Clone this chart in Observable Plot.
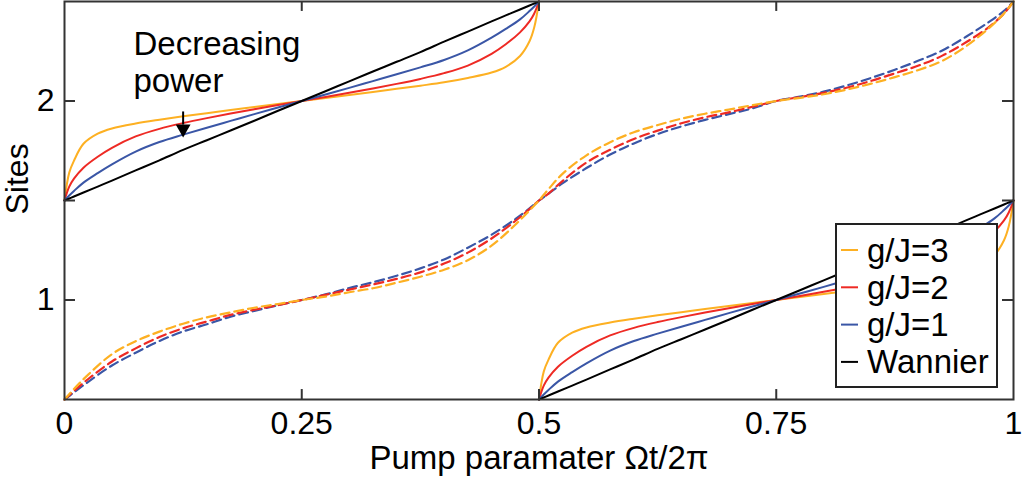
<!DOCTYPE html>
<html>
<head>
<meta charset="utf-8">
<script src="https://cdn.jsdelivr.net/npm/d3@7"></script>
<script src="https://cdn.jsdelivr.net/npm/@observablehq/plot@0.6"></script>
<style>
  html, body { margin: 0; padding: 0; background: #fff; }
  #wrap { position: relative; width: 1022px; height: 483px; font-family: "Liberation Sans", Arial, sans-serif; }
  #legend { position: absolute; left: 835px; top: 223px; }
</style>
</head>
<body>
<div id="wrap"><div id="chart"></div><div id="legend"></div></div>
<script>
// ---------- tick values & labels ----------
const xTicks = [0, 0.25, 0.5, 0.75, 1];
const xTickLabels = ["0", "0.25", "0.5", "0.75", "1"];
const yTicks = [1, 2];
const yTickLabels = ["1", "2"];
const innerXTicks = [0.25, 0.5, 0.75];
const innerYTicks = [1, 1.5, 2];

// ---------- series ----------
const seriesNames = ["g/J=3", "g/J=2", "g/J=1", "Wannier"];
const seriesColors = ["#FDB022", "#EE2A24", "#3A56A6", "#000000"];

// solid curves, first half-cycle (t 0..0.5, sites 1.5..2.5)
const solidT1 = [0, 0.005, 0.01, 0.02, 0.035, 0.05, 0.075, 0.1, 0.125, 0.15, 0.175, 0.2, 0.225, 0.25,
                 0.275, 0.3, 0.325, 0.35, 0.375, 0.4, 0.425, 0.45, 0.465, 0.48, 0.49, 0.495, 0.5];
const g3Upper = [1.5, 1.64, 1.70, 1.785, 1.836, 1.862, 1.887, 1.906, 1.923, 1.939, 1.955, 1.970, 1.985, 2.0,
                 2.015, 2.030, 2.045, 2.061, 2.077, 2.094, 2.116, 2.143, 2.172, 2.226, 2.30, 2.37, 2.5];
const g2Upper = [1.5, 1.57, 1.61, 1.665, 1.72, 1.765, 1.822, 1.860, 1.889, 1.914, 1.937, 1.959, 1.980, 2.0,
                 2.02, 2.041, 2.063, 2.086, 2.111, 2.14, 2.178, 2.237, 2.285, 2.345, 2.40, 2.44, 2.5];
const g1Upper = [1.5, 1.525, 1.548, 1.59, 1.638, 1.682, 1.746, 1.794, 1.831, 1.866, 1.900, 1.934, 1.967, 2.0,
                 2.033, 2.066, 2.1, 2.134, 2.169, 2.206, 2.254, 2.318, 2.362, 2.41, 2.452, 2.475, 2.5];
const wannierUpper = [1.5, 1.51, 1.52, 1.54, 1.57, 1.6, 1.651, 1.702, 1.754, 1.803, 1.852, 1.901, 1.951, 2.0,
                      2.049, 2.099, 2.148, 2.197, 2.246, 2.298, 2.349, 2.4, 2.43, 2.46, 2.48, 2.49, 2.5];

// solid curves, second half-cycle (t 0.5..1, sites 0.5..1.5)
const solidT2 = [0.5, 0.505, 0.51, 0.52, 0.535, 0.55, 0.575, 0.6, 0.625, 0.65, 0.675, 0.7, 0.725, 0.75,
                 0.775, 0.8, 0.825, 0.85, 0.875, 0.9, 0.925, 0.95, 0.965, 0.98, 0.99, 0.995, 1];
const g3Lower = [0.5, 0.64, 0.70, 0.785, 0.836, 0.862, 0.887, 0.906, 0.923, 0.939, 0.955, 0.970, 0.985, 1.0,
                 1.015, 1.030, 1.045, 1.061, 1.077, 1.094, 1.116, 1.143, 1.172, 1.226, 1.30, 1.37, 1.5];
const g2Lower = [0.5, 0.57, 0.61, 0.665, 0.72, 0.765, 0.822, 0.860, 0.889, 0.914, 0.937, 0.959, 0.980, 1.0,
                 1.02, 1.041, 1.063, 1.086, 1.111, 1.14, 1.178, 1.237, 1.285, 1.345, 1.40, 1.44, 1.5];
const g1Lower = [0.5, 0.525, 0.548, 0.59, 0.638, 0.682, 0.746, 0.794, 0.831, 0.866, 0.900, 0.934, 0.967, 1.0,
                 1.033, 1.066, 1.1, 1.134, 1.169, 1.206, 1.254, 1.318, 1.362, 1.41, 1.452, 1.475, 1.5];
const wannierLower = [0.5, 0.51, 0.52, 0.54, 0.57, 0.6, 0.651, 0.702, 0.754, 0.803, 0.852, 0.901, 0.951, 1.0,
                      1.049, 1.099, 1.148, 1.197, 1.246, 1.298, 1.349, 1.4, 1.43, 1.46, 1.48, 1.49, 1.5];

// dashed curves (full cycle, sites 0.5..2.5)
const dashT = [0, 0.01, 0.025, 0.05, 0.075, 0.1, 0.125, 0.15, 0.175, 0.2, 0.225, 0.25,
               0.275, 0.3, 0.325, 0.35, 0.375, 0.4, 0.425, 0.45, 0.475, 0.49, 0.5,
               0.51, 0.525, 0.55, 0.575, 0.6, 0.625, 0.65, 0.675, 0.7, 0.725, 0.75,
               0.775, 0.8, 0.825, 0.85, 0.875, 0.9, 0.925, 0.95, 0.975, 0.99, 1];
const g3Dashed = [0.5, 0.553, 0.625, 0.728, 0.793, 0.841, 0.881, 0.913, 0.938, 0.961, 0.98, 1.0,
                  1.017, 1.039, 1.059, 1.087, 1.117, 1.152, 1.2, 1.273, 1.378, 1.45, 1.5,
                  1.557, 1.635, 1.727, 1.793, 1.843, 1.879, 1.911, 1.936, 1.957, 1.979, 2.0,
                  2.016, 2.034, 2.058, 2.087, 2.12, 2.156, 2.202, 2.275, 2.37, 2.44, 2.5];
const g2Dashed = [0.5, 0.543, 0.603, 0.691, 0.757, 0.814, 0.858, 0.892, 0.925, 0.951, 0.974, 1.0,
                  1.026, 1.052, 1.078, 1.106, 1.139, 1.183, 1.238, 1.309, 1.397, 1.457, 1.5,
                  1.535, 1.599, 1.691, 1.755, 1.809, 1.851, 1.888, 1.918, 1.943, 1.971, 2.0,
                  2.02, 2.041, 2.068, 2.101, 2.139, 2.178, 2.228, 2.295, 2.375, 2.44, 2.5];
const g1Dashed = [0.5, 0.536, 0.589, 0.671, 0.735, 0.794, 0.842, 0.878, 0.916, 0.945, 0.974, 1.0,
                  1.028, 1.06, 1.089, 1.122, 1.159, 1.204, 1.263, 1.328, 1.406, 1.46, 1.5,
                  1.534, 1.587, 1.663, 1.731, 1.787, 1.834, 1.872, 1.905, 1.934, 1.963, 2.0,
                  2.022, 2.047, 2.079, 2.116, 2.157, 2.203, 2.254, 2.323, 2.4, 2.453, 2.5];

// annotation
const annotationText = ["Decreasing\npower"];
const annotationPos = {x: 0.0727, y: 2.362};
const arrowX = 0.125, arrowFrom = 1.945, arrowTo = 1.879, arrowTip = 1.86;

const xLabel = "Pump paramater \u03A9t/2\u03C0";
const yLabel = "Sites";

// ---------- build tables ----------
const solidRows = [];
const solidSets = [
  ["g/J=3", g3Upper, g3Lower],
  ["g/J=2", g2Upper, g2Lower],
  ["g/J=1", g1Upper, g1Lower],
  ["Wannier", wannierUpper, wannierLower]
];
for (const [name, up, lo] of solidSets) {
  solidT1.forEach((t, i) => solidRows.push({t, y: up[i], series: name, seg: name + "-a"}));
  solidT2.forEach((t, i) => solidRows.push({t, y: lo[i], series: name, seg: name + "-b"}));
}
const dashedRows = [];
const dashedSets = [["g/J=1", g1Dashed], ["g/J=2", g2Dashed], ["g/J=3", g3Dashed]];
for (const [name, vals] of dashedSets) {
  dashT.forEach((t, i) => dashedRows.push({t, y: vals[i], series: name}));
}

const font = "'Liberation Sans', Arial, sans-serif";

const chart = Plot.plot({
  width: 1022,
  height: 483,
  marginLeft: 64,
  marginRight: 9,
  marginTop: 1,
  marginBottom: 84,
  style: {fontFamily: font, background: "#fff", color: "#000", overflow: "visible"},
  x: {domain: [0, 1]},
  y: {domain: [0.5, 2.5]},
  color: {domain: seriesNames, range: seriesColors},
  marks: [
    Plot.line(dashedRows, {x: "t", y: "y", stroke: "series", z: "series", curve: "catmull-rom",
      strokeWidth: 2.2, strokeDasharray: "9,5"}),
    Plot.line(solidRows, {x: "t", y: "y", stroke: "series", z: "seg", curve: "catmull-rom", strokeWidth: 2}),
    // inward ticks
    Plot.ruleX(innerXTicks, {x: d => d, y1: 0.5, y2: 0.55, stroke: "#333", strokeWidth: 2}),
    Plot.ruleX(innerXTicks, {x: d => d, y1: 2.45, y2: 2.5, stroke: "#333", strokeWidth: 2}),
    Plot.ruleY(innerYTicks, {y: d => d, x1: 0, x2: 0.0116, stroke: "#333", strokeWidth: 2}),
    Plot.ruleY(innerYTicks, {y: d => d, x1: 0.9884, x2: 1, stroke: "#333", strokeWidth: 2}),
    Plot.frame({stroke: "#333", strokeWidth: 2}),
    Plot.axisX({ticks: xTicks, tickFormat: (d, i) => xTickLabels[i], tickSize: 0, tickPadding: 12,
      fontSize: 32, label: null}),
    Plot.axisY({ticks: yTicks, tickFormat: (d, i) => yTickLabels[i], tickSize: 0, tickPadding: 10,
      fontSize: 32, label: null}),
    Plot.text([xLabel], {frameAnchor: "bottom", dy: 59, lineAnchor: "middle", fontSize: 33, fill: "#000"}),
    Plot.text([yLabel], {frameAnchor: "left", dx: -47, dy: 14, rotate: -90, lineAnchor: "middle", fontSize: 32, fill: "#000"}),
    // annotation
    Plot.text(annotationText, {x: annotationPos.x, y: annotationPos.y, textAnchor: "start", lineAnchor: "top",
      fontSize: 33, lineHeight: 1.12, fill: "#000"}),
    Plot.ruleX([arrowX], {x: d => d, y1: arrowFrom, y2: arrowTo, stroke: "#000", strokeWidth: 2}),
    Plot.dot([arrowX], {x: d => d, y: arrowTip, symbol: "triangle", r: 5.5, rotate: 180, fill: "#000", stroke: "none"})
  ]
});
document.getElementById("chart").appendChild(chart);

// ---------- legend ----------
const lg = d3.select("#legend").append("svg")
  .attr("width", 164).attr("height", 166)
  .style("font-family", font);
lg.append("rect").attr("x", 1).attr("y", 1).attr("width", 161).attr("height", 163)
  .attr("fill", "#fff").attr("stroke", "#222").attr("stroke-width", 2);
seriesNames.forEach((name, i) => {
  const cy = 27 + i * 37.3;
  lg.append("line").attr("x1", 6).attr("x2", 23).attr("y1", cy).attr("y2", cy)
    .attr("stroke", seriesColors[i]).attr("stroke-width", 2);
  lg.append("text").attr("x", 32).attr("y", cy).attr("dy", "0.35em")
    .attr("font-size", 33).attr("fill", "#000").text(name);
});
</script>
</body>
</html>
